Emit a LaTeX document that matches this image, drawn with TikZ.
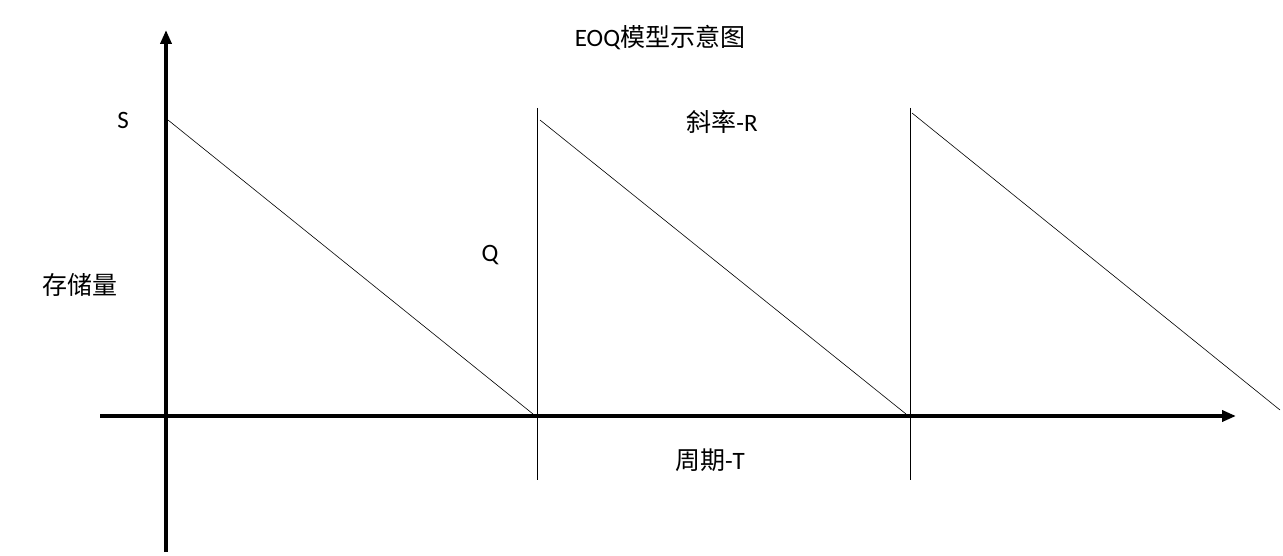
\documentclass[tikz,border=0pt]{standalone}
\usepackage{fontspec}
\setmainfont{Carlito}
\newfontfamily\cjk{Noto Sans CJK SC}
\usetikzlibrary{arrows.meta}
\begin{document}
\begin{tikzpicture}[x=1pt,y=-1pt,
  axis/.style={line width=4pt,-{Triangle[length=14pt,width=11pt]}},
  thin/.style={line width=0.6pt},
  lbl/.style={font=\fontsize{25}{30}\selectfont}]
\useasboundingbox (0,0) rectangle (1283,556);
\coordinate (ya) at (166,552); \coordinate (yb) at (166,30);
\coordinate (xa) at (100,416); \coordinate (xb) at (1236,416);
\draw[axis] (ya) -- (yb);
\draw[axis] (xa) -- (xb);
\coordinate (a1) at (168,120); \coordinate (b1) at (533,414);
\coordinate (a2) at (540,120); \coordinate (b2) at (906,414);
\coordinate (a3) at (912,113); \coordinate (b3) at (1280,410);
\draw[thin] (a1)--(b1) (a2)--(b2) (a3)--(b3);
\coordinate (v1a) at (537,108); \coordinate (v1b) at (537,480);
\coordinate (v2a) at (910,108); \coordinate (v2b) at (910,480);
\draw[thin] (v1a)--(v1b) (v2a)--(v2b);
\node[lbl] (s) at (123,120) {S};
\node[lbl] (q) at (490,255) {Q};
\node[lbl] (st) at (80,285) {\cjk 存储量};
\node[lbl] (r) at (722,122) {{\cjk 斜率}-R};
\node[lbl] (t) at (710,460) {{\cjk 周期}-T};
\node[lbl] (title) at (660,38) {EOQ{\cjk 模型示意图}};
\end{tikzpicture}
\end{document}
